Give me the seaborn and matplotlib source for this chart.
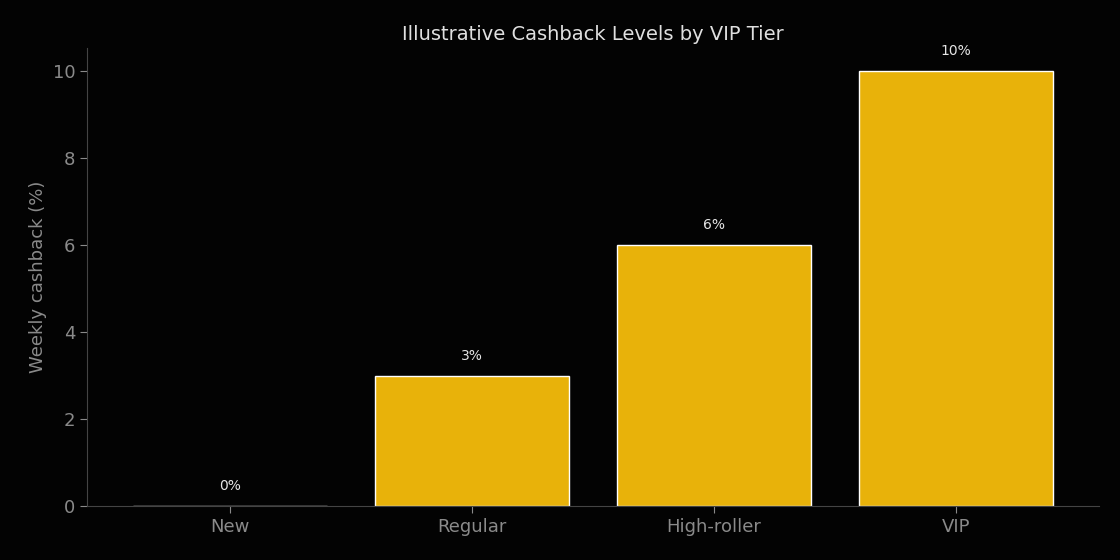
import matplotlib
matplotlib.use("Agg")
import matplotlib.pyplot as plt
import seaborn as sns
import pandas as pd

tiers = ["New", "Regular", "High-roller", "VIP"]
cashback = [0, 3, 6, 10]

BG = "#030303"
BAR = "#E8B20A"
GREY = "#8a8a8a"

sns.set_style("dark")
plt.rcParams['font.family'] = ['DejaVu Sans']

df = pd.DataFrame({"tier": tiers, "cashback": cashback})

fig, ax = plt.subplots(figsize=(11.2, 5.6), dpi=100)
fig.patch.set_facecolor(BG)
ax.set_facecolor(BG)

sns.barplot(data=df, x="tier", y="cashback", color=BAR, saturation=1, width=0.8, ax=ax)

for i, v in enumerate(cashback):
    ax.text(i, v + 0.3, f"{v}%", ha="center", va="bottom", color="#e6e6e6", fontsize=10)

ax.set_xlim(-0.59, 3.59)
ax.set_ylim(0, 10.53)
ax.set_title("Illustrative Cashback Levels by VIP Tier", color="#e0e0e0", fontsize=14)
ax.set_xlabel("")
ax.set_ylabel("Weekly cashback (%)", color=GREY, fontsize=13)
ax.tick_params(colors=GREY, labelsize=13, length=5, left=True, bottom=True)
ax.grid(False)
for s in ["top", "right"]:
    ax.spines[s].set_visible(False)
for s in ["left", "bottom"]:
    ax.spines[s].set_color("#444444")

fig.subplots_adjust(left=0.078, right=0.981, top=0.914, bottom=0.096)
fig.savefig("out.png", facecolor=BG)
